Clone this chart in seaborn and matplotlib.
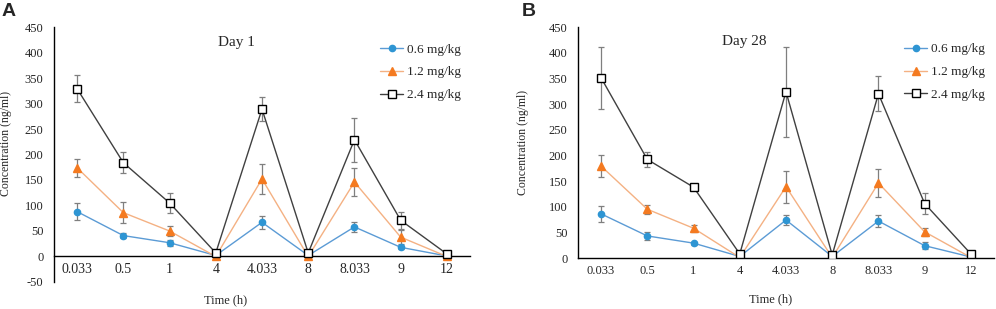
import numpy as np
import pandas as pd
import seaborn as sns
import matplotlib.pyplot as plt

# Sampling times (categorical axis)
times = ["0.033", "0.5", "1", "4", "4.033", "8", "8.033", "9", "12"]
doses = ["0.6 mg/kg", "1.2 mg/kg", "2.4 mg/kg"]

# Day 1 means and SD
day1_06 = [88, 41, 27, 2, 67, 2, 58, 18, 1]
day1_12 = [174, 86, 50, 0, 152, 0, 146, 38, 0]
day1_24 = [329, 184, 105, 7, 289, 7, 229, 71, 5]
day1_06_sd = [17, 5, 6, 1, 13, 1, 10, 3, 1]
day1_12_sd = [18, 21, 9, 0, 30, 0, 28, 13, 0]
day1_24_sd = [27, 20, 19, 2, 24, 2, 43, 17, 2]

# Day 28 means and SD
day28_06 = [86, 43, 29, 3, 74, 3, 72, 24, 2]
day28_12 = [179, 95, 58, 1, 139, 1, 146, 51, 1]
day28_24 = [351, 192, 138, 8, 324, 6, 320, 106, 8]
day28_06_sd = [16, 8, 3, 1, 10, 1, 12, 7, 1]
day28_12_sd = [22, 9, 7, 0, 31, 0, 28, 8, 0]
day28_24_sd = [61, 14, 3, 2, 88, 2, 34, 20, 2]

sns.set_style("white")
plt.rcParams["font.family"] = ["Liberation Serif", "DejaVu Serif"]

line_cols = ["#5b9bd5", "#f4b183", "#404040"]
mark_face = ["#2e95d3", "#f47a20", "white"]
mark_edge = ["#2e95d3", "#f47a20", "black"]
markers = ["o", "^", "s"]
msizes = [4.5, 6, 5.5]

fig = plt.figure(figsize=(9.96, 3.09), dpi=100)
axA = fig.add_axes([0.0542, 0.0874, 0.4177, 0.8252])
axB = fig.add_axes([0.5803, 0.165, 0.4177, 0.7476])


def draw(ax, means, sds, title, ylim, ticks, title_x, zero_axis, leg_y):
    pos = np.arange(len(times))
    rows = []
    for d, m in zip(doses, means):
        for p, v in zip(pos, m):
            rows.append({"pos": p, "conc": v, "dose": d})
    df = pd.DataFrame(rows)
    for m, s in zip(means, sds):
        ax.errorbar(pos, m, yerr=s, fmt="none", ecolor="#7f7f7f",
                    elinewidth=0.9, capsize=2.5, capthick=0.9, zorder=2)
    sns.lineplot(data=df, x="pos", y="conc", hue="dose", style="dose",
                 hue_order=doses, palette=line_cols, markers=markers,
                 dashes=False, ax=ax, linewidth=1.0, zorder=3, legend=False)
    # restyle markers like the original
    for i, ln in enumerate(ax.get_lines()[-3:]):
        ln.set_markerfacecolor(mark_face[i])
        ln.set_markeredgecolor(mark_edge[i])
        ln.set_markersize(msizes[i])
        ln.set_markeredgewidth(1.0)
    ax.set_xlim(-0.5, len(times) - 0.5)
    ax.set_ylim(*ylim)
    ax.set_yticks(ticks)
    ax.set_yticklabels([str(t) for t in ticks], fontsize=9)
    ax.set_xticks(pos)
    ax.set_xticklabels(times, fontsize=9)
    ax.tick_params(axis="y", length=0, pad=7.5)
    ax.tick_params(axis="x", length=0, pad=5)
    for sp in ["top", "right"]:
        ax.spines[sp].set_visible(False)
    for sp in ["left", "bottom"]:
        ax.spines[sp].set_color("black")
        ax.spines[sp].set_linewidth(1.0)
    if zero_axis:
        ax.spines["bottom"].set_position(("data", 0))
    ax.text(title_x, 0.965, title, transform=ax.transAxes, fontsize=11,
            ha="center", va="top")
    handles = []
    for i in range(3):
        h, = ax.plot([], [], color=line_cols[i], marker=markers[i],
                     markerfacecolor=mark_face[i], markeredgecolor=mark_edge[i],
                     markersize=msizes[i], linewidth=1.0)
        handles.append(h)
    ax.legend(handles, doses, loc="upper left", bbox_to_anchor=(0.783, leg_y),
              frameon=False, fontsize=9.5, handlelength=1.8, handletextpad=0.3,
              labelspacing=0.8, borderaxespad=0, borderpad=0)


draw(axA, [day1_06, day1_12, day1_24], [day1_06_sd, day1_12_sd, day1_24_sd],
     "Day 1", (-50, 450), list(range(-50, 451, 50)), 0.4375, True, 0.936)
draw(axB, [day28_06, day28_12, day28_24], [day28_06_sd, day28_12_sd, day28_24_sd],
     "Day 28", (0, 450), list(range(0, 451, 50)), 0.40, False, 0.93)

axA.set_xlabel("Time (h)", fontsize=9)
axA.xaxis.set_label_coords(0.413, -0.05)
axA.set_ylabel("Concentration (ng/ml)", fontsize=8.5)
axA.yaxis.set_label_coords(-0.101, 0.545)
axB.set_xlabel("Time (h)", fontsize=9)
axB.xaxis.set_label_coords(0.462, -0.152)
axB.set_ylabel("Concentration (ng/ml)", fontsize=8.5)
axB.yaxis.set_label_coords(-0.118, 0.498)

fig.text(0.002, 0.99, "A", fontsize=14, fontweight="bold", va="top",
         family=["Liberation Sans", "DejaVu Sans"])
fig.text(0.524, 0.99, "B", fontsize=14, fontweight="bold", va="top",
         family=["Liberation Sans", "DejaVu Sans"])

fig.savefig("out.png", dpi=100)
